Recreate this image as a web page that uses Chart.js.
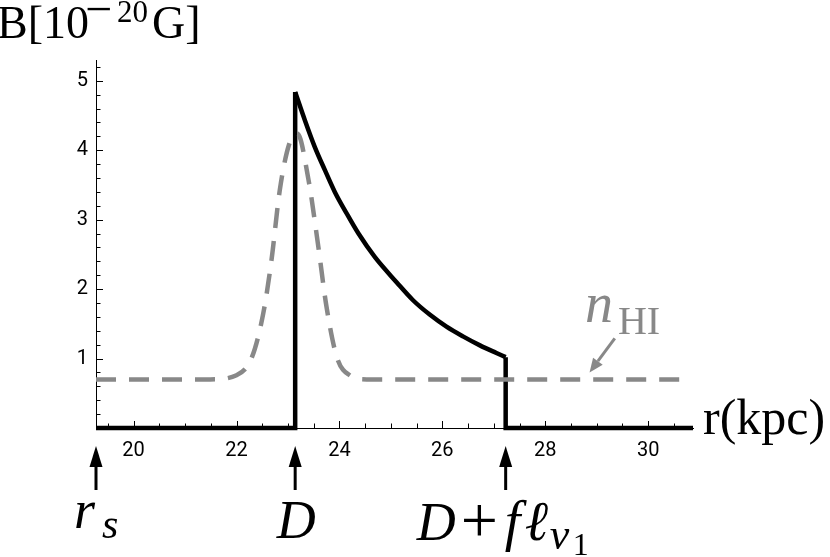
<!DOCTYPE html>
<html>
<head>
<meta charset="utf-8">
<script src="https://cdn.jsdelivr.net/npm/chart.js@4.4.1/dist/chart.umd.min.js"></script>
<style>
  html, body { margin: 0; padding: 0; background: #fff; }
  #wrap { width: 830px; height: 557px; position: relative; }
</style>
</head>
<body>
<div id="wrap"><canvas id="c" width="830" height="557"></canvas></div>
<script>
// ---- data ----
// axis range (kpc, 10^-20 G)
const rMin = 19.27, rMax = 30.87;
const bMin = 0, bMax = 5.3;

// magnetic field B: zero, jump at D, decay, drop at D + f*l
const riseR  = [19.27, 23.14, 23.14];
const riseB  = [0, 0, 4.84];
const decayR = [23.14, 23.33, 23.52, 23.72, 23.91, 24.14, 24.37, 24.69, 25.11, 25.43, 25.76, 26.08, 26.40, 26.73, 27.05, 27.23];
const decayB = [4.84, 4.43, 4.05, 3.71, 3.40, 3.09, 2.80, 2.46, 2.10, 1.84, 1.63, 1.46, 1.32, 1.19, 1.08, 1.02];
const fallR  = [27.23, 27.23, 30.87];
const fallB  = [1.02, 0, 0];

// HI density profile (grey dashed)
const hiR = [19.27, 21.49, 22.00, 22.30, 22.52, 22.68, 22.84, 23.02, 23.18, 23.40, 23.59, 23.75, 23.95, 24.20, 24.53, 30.67];
const hiB = [0.70, 0.70, 0.76, 1.02, 1.65, 2.42, 3.42, 4.08, 4.24, 3.57, 2.61, 1.74, 1.02, 0.76, 0.70, 0.70];

// tick values
const xLabelStep = 2, xMinorStep = 0.5;
const yLabelStep = 1, yMinorStep = 0.2;

// arrow markers below the axis
const markR = [19.27, 23.14, 27.23];

// n_HI annotation (data coords)
const nhiLabelAt = [28.77, 1.53];
const nhiArrowFrom = [29.35, 1.29];
const nhiArrowTo = [28.86, 0.80];

const pts = (xs, ys) => xs.map((x, i) => ({ x: x, y: ys[i] }));

const GREY = '#888888';
const SERIF = '"Liberation Serif", "DejaVu Serif", serif';

const annot = {
  id: 'annot',
  afterDraw(chart) {
    const ctx = chart.ctx;
    const xs = chart.scales.x, ys = chart.scales.y;
    const ca = chart.chartArea;
    ctx.save();
    // inward ticks
    ctx.strokeStyle = '#000';
    ctx.lineWidth = 1;
    const near = (a, b) => Math.abs(a - b) < 1e-6;
    for (let v = Math.ceil(rMin / xMinorStep) * xMinorStep; v <= rMax + 1e-9; v += xMinorStep) {
      const major = near(v / xLabelStep, Math.round(v / xLabelStep));
      const px = Math.round(xs.getPixelForValue(v)) + 0.5;
      const len = major ? 7 : 4.5;
      ctx.beginPath();
      ctx.moveTo(px, ca.bottom);
      ctx.lineTo(px, ca.bottom - len);
      ctx.stroke();
    }
    for (let v = yMinorStep; v <= bMax + 1e-9; v += yMinorStep) {
      const major = near(v / yLabelStep, Math.round(v / yLabelStep));
      const py = Math.round(ys.getPixelForValue(v)) + 0.5;
      const len = major ? 7 : 4.5;
      ctx.beginPath();
      ctx.moveTo(ca.left, py);
      ctx.lineTo(ca.left + len, py);
      ctx.stroke();
    }

    const it = (s) => 'italic ' + s + 'px ' + SERIF;
    const rm = (s) => s + 'px ' + SERIF;

    // y axis title  B[10^-20 G]
    ctx.fillStyle = '#000';
    ctx.textBaseline = 'alphabetic';
    ctx.textAlign = 'left';
    ctx.font = rm(46);
    ctx.fillText('B[10', -3, 38);
    ctx.font = rm(48);
    ctx.fillText('\u2212', 85, 25);
    ctx.font = rm(31);
    ctx.fillText('20', 117, 22);
    ctx.font = rm(46);
    ctx.fillText('G]', 152, 38);

    // x axis title r(kpc)
    ctx.font = rm(50);
    ctx.fillText('r(kpc)', ca.right + 10, ca.bottom + 6);

    // arrows
    ctx.fillStyle = '#000';
    ctx.strokeStyle = '#000';
    markR.forEach(r => {
      const px = xs.getPixelForValue(r);
      ctx.lineWidth = 3;
      ctx.beginPath();
      ctx.moveTo(px, 490);
      ctx.lineTo(px, 460);
      ctx.stroke();
      ctx.beginPath();
      ctx.moveTo(px, 446);
      ctx.lineTo(px - 6.5, 467);
      ctx.lineTo(px + 6.5, 467);
      ctx.closePath();
      ctx.fill();
    });

    // marker labels
    // r_s
    const p0 = xs.getPixelForValue(markR[0]);
    ctx.font = it(54);
    ctx.fillText('r', p0 - 22, 528);
    ctx.font = it(42);
    ctx.fillText('s', p0 + 6, 538);
    // D
    const p1 = xs.getPixelForValue(markR[1]);
    ctx.font = it(54);
    ctx.textAlign = 'center';
    ctx.fillText('D', p1 + 1, 538);
    ctx.textAlign = 'left';
    // D + f l_nu1
    const p2 = xs.getPixelForValue(markR[2]);
    ctx.font = it(54);
    ctx.fillText('D', p2 - 89, 540);
    ctx.font = rm(66);
    ctx.fillText('+', p2 - 45, 542);
    ctx.font = it(56);
    ctx.fillText('f', p2 - 1, 540);
    ctx.fillText('\u2113', p2 + 19, 540);
    ctx.font = it(44);
    ctx.fillText('\u03bd', p2 + 44, 549);
    ctx.font = rm(32);
    ctx.fillText('1', p2 + 67, 555);

    // n_HI annotation
    ctx.fillStyle = GREY;
    ctx.strokeStyle = GREY;
    const lx = xs.getPixelForValue(nhiLabelAt[0]);
    const ly = ys.getPixelForValue(nhiLabelAt[1]);
    ctx.font = it(56);
    ctx.fillText('n', lx, ly);
    ctx.font = rm(40);
    ctx.fillText('HI', lx + 33, ly + 12);
    const ax0 = xs.getPixelForValue(nhiArrowFrom[0]), ay0 = ys.getPixelForValue(nhiArrowFrom[1]);
    const ax1 = xs.getPixelForValue(nhiArrowTo[0]), ay1 = ys.getPixelForValue(nhiArrowTo[1]);
    const ang = Math.atan2(ay1 - ay0, ax1 - ax0);
    const hl = 14, hw = 6;
    const bx = ax1 - hl * Math.cos(ang), by = ay1 - hl * Math.sin(ang);
    ctx.lineWidth = 3;
    ctx.beginPath();
    ctx.moveTo(ax0, ay0);
    ctx.lineTo(bx, by);
    ctx.stroke();
    ctx.beginPath();
    ctx.moveTo(ax1, ay1);
    ctx.lineTo(bx + hw * Math.sin(ang), by - hw * Math.cos(ang));
    ctx.lineTo(bx - hw * Math.sin(ang), by + hw * Math.cos(ang));
    ctx.closePath();
    ctx.fill();
    ctx.restore();
  }
};

const blackStyle = {
  borderColor: '#000', backgroundColor: '#000', borderWidth: 4.5,
  pointRadius: 0, fill: false, clip: false, borderJoinStyle: 'miter', borderCapStyle: 'butt'
};

new Chart(document.getElementById('c'), {
  type: 'line',
  data: {
    datasets: [
      { label: 'n_HI', data: pts(hiR, hiB), borderColor: GREY, backgroundColor: GREY,
        borderWidth: 4.5, borderDash: [20, 13], pointRadius: 0, fill: false, clip: false,
        cubicInterpolationMode: 'monotone' },
      Object.assign({ label: 'B rise', data: pts(riseR, riseB), tension: 0 }, blackStyle),
      Object.assign({ label: 'B', data: pts(decayR, decayB), cubicInterpolationMode: 'monotone' }, blackStyle),
      Object.assign({ label: 'B fall', data: pts(fallR, fallB), tension: 0 }, blackStyle)
    ]
  },
  options: {
    responsive: false,
    animation: false,
    events: [],
    layout: { padding: { top: 60, right: 137, left: 0, bottom: 0 } },
    plugins: { legend: { display: false }, tooltip: { enabled: false }, title: { display: false } },
    scales: {
      x: {
        type: 'linear', min: rMin, max: rMax,
        afterFit(s) { s.height = 129; },
        grid: { display: false, drawTicks: false, drawOnChartArea: false },
        border: { display: true, color: '#000', width: 1 },
        ticks: {
          stepSize: xLabelStep, includeBounds: false, padding: 11, color: '#000',
          font: { family: 'Roboto', size: 20 }, maxRotation: 0, autoSkip: false,
          callback: (v) => String(Math.round(v))
        }
      },
      y: {
        type: 'linear', min: bMin, max: bMax,
        afterFit(s) { s.width = 96; },
        grid: { display: false, drawTicks: false, drawOnChartArea: false },
        border: { display: true, color: '#000', width: 1 },
        ticks: {
          stepSize: yLabelStep, includeBounds: false, padding: 8, color: '#000',
          font: { family: 'Roboto', size: 20 }, autoSkip: false,
          callback: (v) => (v === 0 ? '' : String(Math.round(v)))
        }
      }
    }
  },
  plugins: [annot]
});
</script>
</body>
</html>
